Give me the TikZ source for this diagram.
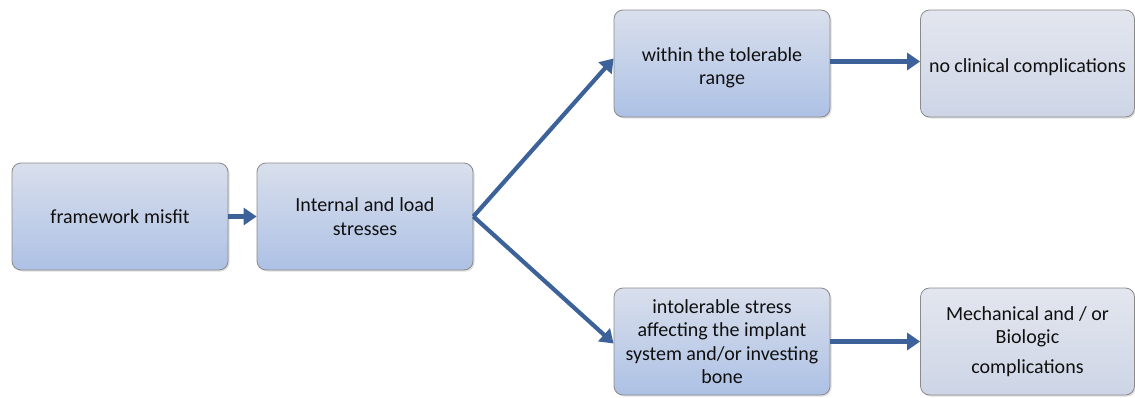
\documentclass[tikz,border=0pt]{standalone}
\usepackage{fontspec}
\setmainfont{Carlito}
\usetikzlibrary{arrows.meta,shadows}
\definecolor{arr}{HTML}{3C6299}
\definecolor{bordc}{HTML}{8A8A8A}
\definecolor{topc}{HTML}{D9DFEC}
\definecolor{botc}{HTML}{ADC1E5}
\definecolor{ltop}{HTML}{E3E6EE}
\definecolor{lbot}{HTML}{CDD5E6}
\definecolor{txt}{HTML}{101010}
\protected\def\tightspace{\spaceskip=4pt plus 1pt minus 1pt\relax}
\tikzset{
  box/.style={draw=bordc, line width=0.8pt, rounded corners=9pt, top color=topc, bottom color=botc,
    minimum width=216pt, minimum height=107pt, inner sep=1pt, align=center, text width=212pt,
    font=\fontsize{20}{23.5}\selectfont, text=txt,
    execute at begin node=\tightspace,
    drop shadow={shadow xshift=1.5pt, shadow yshift=-1.5pt, opacity=0.25}},
  lbox/.style={box, top color=ltop, bottom color=lbot},
  conn/.style={draw=arr, line width=4.2pt, -{Triangle[length=13pt,width=17pt]}}
}
\begin{document}
\begin{tikzpicture}[x=1pt,y=-1pt]
\useasboundingbox (0,0) rectangle (1135,397);
\node[box] (a) at (120,216.5) {framework misfit};
\node[box] (b) at (365,216.5) {Internal and load\\stresses};
\node[box] (c) at (722,63.5) {\rule{0pt}{22pt}within the tolerable\\range};
\node[lbox, minimum width=211pt] (d) at (1027.5,63.5) {\rule{0pt}{22pt}no clinical complications};
\node[box] (e) at (722,341.5) {intolerable stress\\affecting the implant\\system and/or investing\\bone};
\node[lbox, minimum width=211pt] (f) at (1027.5,341.5) {Mechanical and / or\\Biologic\\[6pt]complications};
\draw[conn] (a.east) -- (b.west);
\draw[conn] (b.east) -- ([yshift=5pt]c.west);
\draw[conn] (b.east) -- ([yshift=-2pt]e.west);
\draw[conn] ([yshift=2pt]c.east) -- ([yshift=2pt]c.east -| d.west);
\draw[conn] (e.east) -- (f.west);
\end{tikzpicture}
\end{document}
